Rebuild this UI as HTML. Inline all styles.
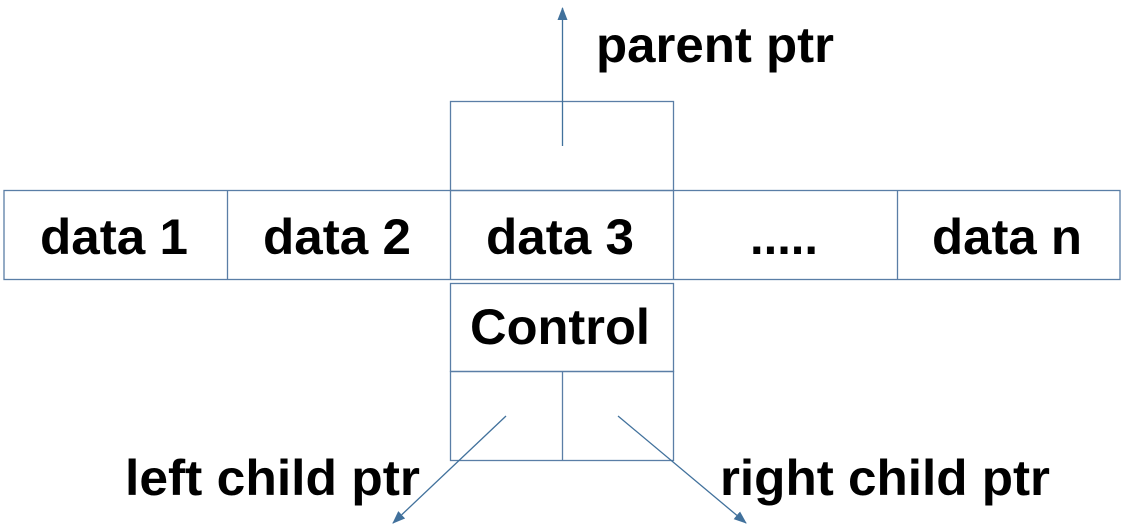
<!DOCTYPE html>
<html><head><style>html,body{margin:0;padding:0;background:#fff;}svg{display:block}</style></head>
<body>
<svg width="1122" height="526" viewBox="0 0 1122 526" xmlns="http://www.w3.org/2000/svg">
<defs><marker id="a" markerWidth="8" markerHeight="8" refX="6" refY="3" orient="auto" markerUnits="userSpaceOnUse"><path d="M0,0 L7,3 L0,6 z" fill="#41719c"/></marker>
<marker id="b" markerWidth="14" markerHeight="14" refX="12" refY="5" orient="auto" markerUnits="userSpaceOnUse"><path d="M0,0 L13,5 L0,10 z" fill="#41719c"/></marker></defs>
<g fill="none" stroke="#5a7ea6" stroke-width="1.3">
<rect x="4" y="190.5" width="1116" height="89"/>
<line x1="227.5" y1="190" x2="227.5" y2="280"/>
<line x1="450.5" y1="190" x2="450.5" y2="280"/>
<line x1="673.5" y1="190" x2="673.5" y2="280"/>
<line x1="897.5" y1="190" x2="897.5" y2="280"/>
<rect x="450.5" y="101.5" width="223" height="89"/>
<rect x="450.5" y="283.5" width="223" height="88"/>
<rect x="450.5" y="371.5" width="223" height="89"/>
<line x1="562.5" y1="371" x2="562.5" y2="460"/>
</g>
<g stroke="#41719c" stroke-width="1.3" fill="none">
<line x1="562.5" y1="146" x2="562.5" y2="8" marker-end="url(#b)"/>
<line x1="506" y1="416" x2="393" y2="523" marker-end="url(#b)"/>
<line x1="618" y1="416" x2="746" y2="523" marker-end="url(#b)"/>
</g>
<g font-family="Liberation Sans, sans-serif" font-weight="bold" font-size="50" fill="#000">
<text x="40" y="254" textLength="148" lengthAdjust="spacingAndGlyphs">data 1</text>
<text x="263" y="254" textLength="148" lengthAdjust="spacingAndGlyphs">data 2</text>
<text x="486" y="254" textLength="148" lengthAdjust="spacingAndGlyphs">data 3</text>
<text x="750" y="254" textLength="68" lengthAdjust="spacingAndGlyphs">.....</text>
<text x="932" y="254" textLength="150" lengthAdjust="spacingAndGlyphs">data n</text>
<text x="470" y="344" textLength="180" lengthAdjust="spacingAndGlyphs">Control</text>
<text x="596" y="62" textLength="238" lengthAdjust="spacingAndGlyphs">parent ptr</text>
<text x="125" y="495" textLength="295" lengthAdjust="spacingAndGlyphs">left child ptr</text>
<text x="720" y="495" textLength="330" lengthAdjust="spacingAndGlyphs">right child ptr</text>
</g>
</svg>
</body></html>
